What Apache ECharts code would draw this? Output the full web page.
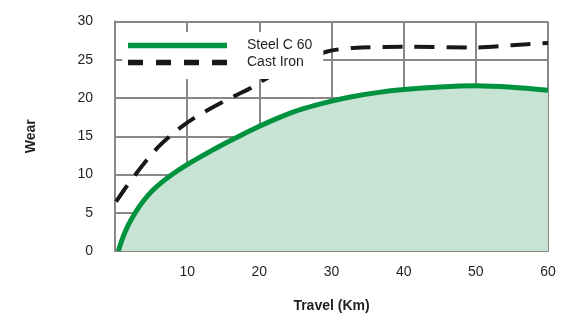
<!DOCTYPE html>
<html>
<head>
<meta charset="utf-8">
<script src="https://cdn.jsdelivr.net/npm/echarts@6/dist/echarts.min.js"></script>
<style>
  html, body { margin: 0; padding: 0; background: #fff; }
  #chart { width: 563px; height: 320px; }
</style>
</head>
<body>
<div id="chart"></div>
<script>
// travel (km) vs wear
var steelC60 = [
    [0.45, 0], [1.15, 1.9], [1.85, 3.4], [2.8, 5.0], [3.9, 6.5], [5.3, 8.0],
    [6.9, 9.3], [8.5, 10.4], [10, 11.3], [12.2, 12.5], [14.3, 13.6], [17.4, 15.1],
    [20, 16.3], [22.9, 17.5], [26.1, 18.6], [30, 19.6], [33, 20.2], [36.3, 20.7],
    [40, 21.1], [45, 21.45], [50, 21.6], [55, 21.4], [60, 21.0]
];
var castIron = [
    [0.15, 6.45], [1.5, 8.3], [3, 10.2], [4.5, 12], [6, 13.6], [7.6, 15],
    [9.3, 16.3], [11, 17.4], [13, 18.5], [15, 19.5], [17, 20.45], [19, 21.4],
    [20.5, 22.3], [25, 24.5], [29.3, 26.05], [33, 26.55], [40, 26.7], [50, 26.6],
    [55, 26.9], [60, 27.2]
];
var seriesNames = ['Steel C 60', 'Cast Iron'];

var gridColor = '#8b8784';
var textColor = '#231f20';
var steelColor = '#00933f';
var ironColor = '#1a1718';

var chartDom = document.getElementById('chart');
var myChart = echarts.init(chartDom);

var option = {
    animation: false,
    textStyle: { fontFamily: 'Liberation Sans, Arial, sans-serif' },
    grid: { left: 115, right: 15, top: 21.5, bottom: 69 },
    legend: {
        left: 122,
        top: 32,
        orient: 'vertical',
        itemWidth: 99,
        itemHeight: 5.5,
        itemGap: 0,
        padding: [5, 11, 8, 6],
        backgroundColor: '#fff',
        textStyle: { fontSize: 14, color: textColor, lineHeight: 17, padding: [0, 0, 0, 15] },
        data: [
            {
                name: seriesNames[0],
                icon: 'path://M0,0H99V5.5H0Z',
                itemStyle: { color: steelColor, borderWidth: 0 },
                lineStyle: { width: 0 }
            },
            {
                name: seriesNames[1],
                icon: 'path://M0,0H15V5.5H0Z M28,0H43V5.5H28Z M56,0H71V5.5H56Z M84,0H99V5.5H84Z',
                itemStyle: { color: ironColor, borderWidth: 0 },
                lineStyle: { width: 0 }
            }
        ]
    },
    xAxis: {
        type: 'value',
        min: 0, max: 60, interval: 10,
        name: 'Travel (Km)',
        nameLocation: 'middle',
        nameGap: 48,
        nameTextStyle: { fontSize: 14, fontWeight: 'bold', color: textColor },
        axisLine: { show: true, lineStyle: { color: gridColor, width: 2 } },
        axisTick: { show: false },
        axisLabel: {
            fontSize: 14, color: textColor, margin: 14,
            formatter: function (v) { return v === 0 ? '' : v; }
        },
        splitLine: { show: true, lineStyle: { color: gridColor, width: 2 } }
    },
    yAxis: {
        type: 'value',
        min: 0, max: 30, interval: 5,
        name: 'Wear',
        nameLocation: 'middle',
        nameRotate: 90,
        nameGap: 77,
        nameTextStyle: { fontSize: 14, fontWeight: 'bold', color: textColor },
        axisLine: { show: true, lineStyle: { color: gridColor, width: 2 } },
        axisTick: { show: false },
        axisLabel: { fontSize: 14, color: textColor, margin: 22 },
        splitLine: { show: true, lineStyle: { color: gridColor, width: 2 } }
    },
    series: [
        {
            name: seriesNames[0],
            type: 'line',
            data: steelC60,
            smooth: 0.3,
            symbol: 'none',
            lineStyle: { color: steelColor, width: 5 },
            itemStyle: { color: steelColor },
            areaStyle: { color: '#c7e3d4', opacity: 1 }
        },
        {
            name: seriesNames[1],
            type: 'line',
            data: castIron,
            smooth: 0.3,
            symbol: 'none',
            lineStyle: { color: ironColor, width: 4, type: [20, 12] },
            itemStyle: { color: ironColor }
        }
    ]
};
myChart.setOption(option);
</script>
</body>
</html>
